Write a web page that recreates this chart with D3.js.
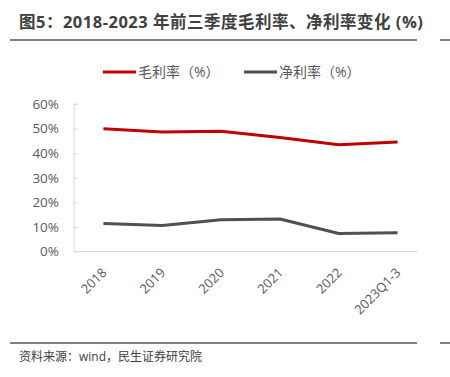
<!DOCTYPE html>
<html>
<head>
<meta charset="utf-8">
<script src="https://cdn.jsdelivr.net/npm/d3@7"></script>
<style>
  body { margin: 0; background: #fff; }
  text { font-family: "Open Sans", "Noto Sans CJK SC", sans-serif; }
</style>
</head>
<body>
<script>
var width  = 450;
var height = 377;

var categories  = ['2018', '2019', '2020', '2021', '2022', '2023Q1-3'];
var grossMargin = [49.9, 48.6, 48.9, 46.4, 43.4, 44.5];
var netMargin   = [11.4, 10.6, 12.9, 13.2, 7.3, 7.6];
var yTicks      = [0, 10, 20, 30, 40, 50, 60];
var seriesNames = ['毛利率（%）', '净利率（%）'];
var seriesColors = ['#c00000', '#505050'];

var svg = d3.select('body')
.append('svg')
.attr('width', width)
.attr('height', height)
.attr('viewBox', [0, 0, width, height].join(' '));

// title + rules
svg.append('text')
.attr('x', 19)
.attr('y', 28)
.attr('font-size', 16.5)
.attr('letter-spacing', 0.5)
.attr('font-weight', 'bold')
.attr('fill', '#404040')
.text('图5：2018-2023 年前三季度毛利率、净利率变化 (%)');

svg.append('line')
.attr('x1', 10).attr('x2', 417).attr('y1', 40).attr('y2', 40)
.attr('stroke', '#595959').attr('stroke-width', 1.5);
svg.append('line')
.attr('x1', 440).attr('x2', 450).attr('y1', 40).attr('y2', 40)
.attr('stroke', '#595959').attr('stroke-width', 1.5);
svg.append('line')
.attr('x1', 10).attr('x2', 417).attr('y1', 343).attr('y2', 343)
.attr('stroke', '#595959').attr('stroke-width', 1.5);
svg.append('line')
.attr('x1', 440).attr('x2', 450).attr('y1', 343).attr('y2', 343)
.attr('stroke', '#595959').attr('stroke-width', 1.5);

svg.append('text')
.attr('x', 19)
.attr('y', 361)
.attr('font-size', 12)
.attr('fill', '#404040')
.text('资料来源：wind，民生证券研究院');

// scales
var x = d3.scalePoint().domain(categories).range([74, 427]).padding(0.5);
var y = d3.scaleLinear().domain([0, 60]).range([251.5, 104]);

// y axis
var yAxis = svg.append('g')
.attr('transform', 'translate(74,0)')
.call(d3.axisRight(y).tickValues(yTicks).tickSize(4).tickFormat(function (d) { return d + '%'; }));
yAxis.select('.domain').attr('stroke', '#d9d9d9').attr('d', 'M4,104H0V251.5');
yAxis.selectAll('.tick line').attr('stroke', '#d9d9d9');
yAxis.selectAll('.tick text')
.attr('x', -15)
.attr('text-anchor', 'end')
.attr('font-size', 13.5)
.attr('fill', '#595959');

// x axis
svg.append('line')
.attr('x1', 74).attr('x2', 418).attr('y1', y(0)).attr('y2', y(0))
.attr('stroke', '#d9d9d9').attr('stroke-width', 1);

svg.selectAll('.xlabel')
.data(categories)
.enter().append('text')
.attr('class', 'xlabel')
.attr('transform', function (d) { return 'translate(' + (x(d) + 4) + ',' + (y(0) + 22) + ') rotate(-45)'; })
.attr('text-anchor', 'end')
.attr('font-size', 13)
.attr('fill', '#595959')
.text(function (d) { return d; });

// lines
var line = d3.line()
.x(function (d, i) { return x(categories[i]); })
.y(function (d) { return y(d); });

[grossMargin, netMargin].forEach(function (values, i) {
  svg.append('path')
  .datum(values)
  .attr('d', line)
  .attr('fill', 'none')
  .attr('stroke', seriesColors[i])
  .attr('stroke-width', 3)
  .attr('stroke-linejoin', 'round');
});

// legend
var legendX = [103, 244];
seriesNames.forEach(function (name, i) {
  svg.append('line')
  .attr('x1', legendX[i]).attr('x2', legendX[i] + 33)
  .attr('y1', 72).attr('y2', 72)
  .attr('stroke', seriesColors[i]).attr('stroke-width', 3);
  svg.append('text')
  .attr('x', legendX[i] + 35)
  .attr('y', 77)
  .attr('font-size', 14)
  .attr('fill', '#595959')
  .text(name);
});
</script>
</body>
</html>
